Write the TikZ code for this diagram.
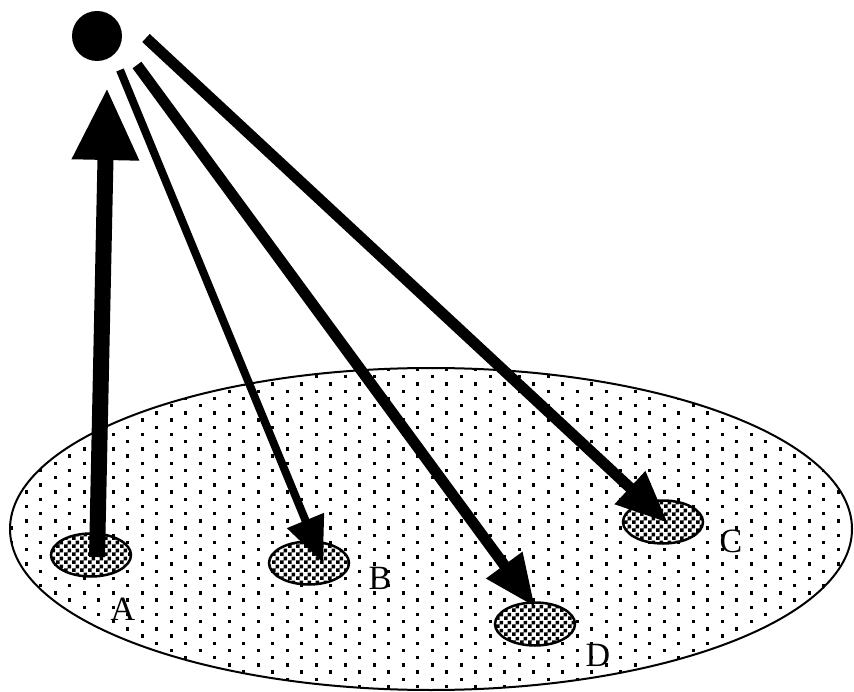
\documentclass[tikz,border=0pt]{standalone}
\usepackage{fontspec}
\setmainfont{Liberation Serif}
\usetikzlibrary{arrows.meta,shapes.geometric,patterns}
\pgfdeclarepatternformonly{chk}{\pgfpointorigin}{\pgfpoint{8pt}{8pt}}{\pgfpoint{8pt}{8pt}}{%
  \pgfpathrectangle{\pgfpointorigin}{\pgfpoint{4pt}{4pt}}%
  \pgfpathrectangle{\pgfpoint{4pt}{4pt}}{\pgfpoint{4pt}{4pt}}%
  \pgfusepath{fill}}
\tikzset{
  spot/.style={ellipse, draw, line width=2.5pt, minimum width=80pt, minimum height=43pt, inner sep=0pt,
    preaction={fill=white}, pattern=chk},
  lbl/.style={font=\fontsize{34}{34}\selectfont, inner sep=0pt},
  ray/.style={line width=#1, line cap=butt}
}
\begin{document}
\begin{tikzpicture}[x=1pt,y=-1pt]
\useasboundingbox (0,0) rectangle (854,692);
% ground ellipse
\fill[white] (431,529) ellipse [x radius=421, y radius=161];
\begin{scope}
  \clip (431,529) ellipse [x radius=421, y radius=161];
  \foreach \r in {0,...,45}{
    \pgfmathsetmacro\off{mod(\r,2)*14.5}
    \foreach \c in {0,...,29}{
      \fill (10+\off+\c*29, 368+\r*7.2) rectangle ++(3.3,3.3);
    }
  }
\end{scope}
\draw[line width=2pt] (431,529) ellipse [x radius=421, y radius=161];
% spots
\node[spot] (A) at (91,555) {};
\node[spot] (B) at (309,563) {};
\node[spot] (C) at (663,522) {};
\node[spot] (D) at (535,624) {};
% sun
\node[circle, fill, minimum size=50pt, inner sep=0pt] (sun) at (97,36) {};
% ray coordinates
\coordinate (a0) at (97,557);
\coordinate (a1) at (107,88);
\coordinate (b0) at (120,70);
\coordinate (b1) at (323,563);
\coordinate (d0) at (137,65);
\coordinate (d1) at (535,607);
\coordinate (c0) at (146,38);
\coordinate (c1) at (668,523);
\draw[ray=16pt, -{Triangle[length=72pt,width=63pt]}] (a0) -- (a1);
\draw[ray=8pt, -{Triangle[length=46pt,width=38pt]}] (b0) -- (b1);
\draw[ray=11pt, -{Triangle[length=52pt,width=42pt]}] (d0) -- (d1);
\draw[ray=11pt, -{Triangle[length=52pt,width=42pt]}] (c0) -- (c1);
% labels
\node[lbl] (la) at (123,609) {A};
\node[lbl] (lb) at (380,578) {B};
\node[lbl] (lc) at (731,541) {C};
\node[lbl] (ld) at (598,655) {D};
\end{tikzpicture}
\end{document}
